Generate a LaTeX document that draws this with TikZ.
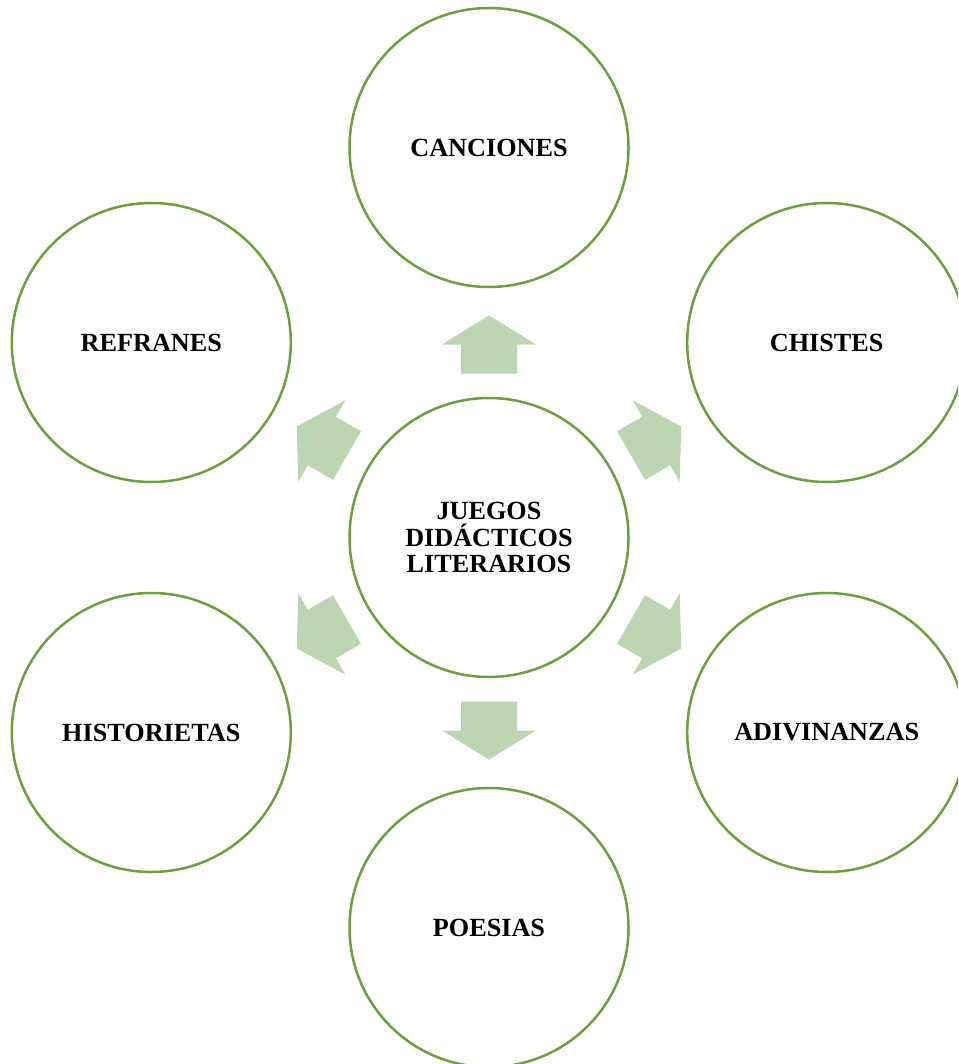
\documentclass[tikz,border=0pt]{standalone}
\usepackage{fontspec}
\setmainfont{Liberation Serif}
\definecolor{ring}{RGB}{108,160,60}
\definecolor{arr}{RGB}{188,214,177}
\tikzset{
  bubble/.style={circle, draw=ring, line width=2.5pt, minimum size=279pt, inner sep=0pt, align=center,
    font=\bfseries\fontsize{26.2}{26.5}\selectfont, fill=white},
  blockarrow/.style={fill=arr, draw=none}
}
\begin{document}
\begin{tikzpicture}[x=1pt,y=-1pt]
\useasboundingbox (0,0) rectangle (958,1064);
\fill[white] (0,0) rectangle (958,1064);
\clip (0,0) rectangle (958,1064);
\node[bubble] (C) at (489,537.5) {JUEGOS\\DIDÁCTICOS\\LITERARIOS};
\node[bubble] (top) at (489,147.5) {CANCIONES};
\node[bubble] (ur) at (826.7,342.5) {CHISTES};
\node[bubble] (lr) at (826.7,732.5) {ADIVINANZAS};
\node[bubble] (bot) at (489,927.5) {POESIAS};
\node[bubble] (ll) at (151.3,732.5) {HISTORIETAS};
\node[bubble] (ul) at (151.3,342.5) {REFRANES};
\foreach \a in {0,-60,-120,180,120,60}{
  \begin{scope}[shift={(C.center)}, rotate=\a]
    \fill[blockarrow] (-28,-164) -- (-28,-193) -- (-47,-193) -- (0,-222) -- (47,-193) -- (28,-193) -- (28,-164) -- cycle;
  \end{scope}
}
\end{tikzpicture}
\end{document}
